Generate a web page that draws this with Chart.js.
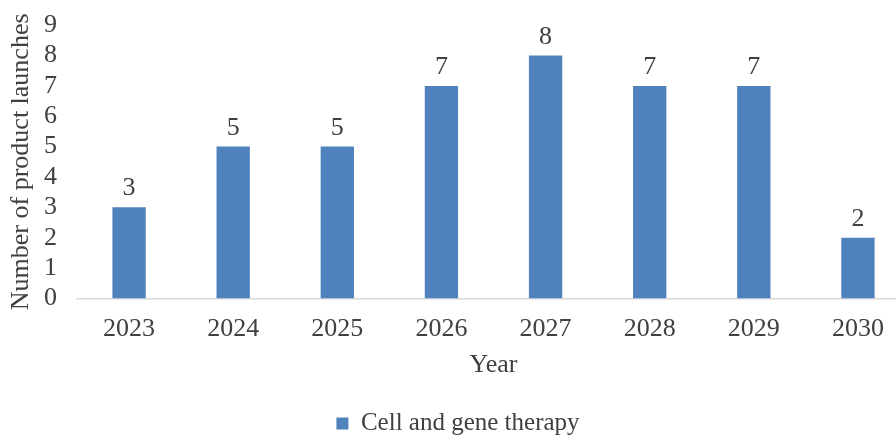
<!DOCTYPE html>
<html lang="en">
<head>
<meta charset="UTF-8" />
<title>Product launches</title>
<script src="https://cdn.jsdelivr.net/npm/chart.js"></script>
<style>
  html, body { margin: 0; padding: 0; background: #fff; overflow: hidden; }
  #wrap { width: 910px; height: 439px; }
</style>
</head>
<body>
<div id="wrap"><canvas id="chart"></canvas></div>
<script>
  const years = ["2023", "2024", "2025", "2026", "2027", "2028", "2029", "2030"];
  const launches = [3, 5, 5, 7, 8, 7, 7, 2];
  const yTicks = [0, 1, 2, 3, 4, 5, 6, 7, 8, 9];

  const textColor = "#404040";
  const serif = "'Liberation Serif', 'DejaVu Serif', serif";

  // value labels above each bar
  const barLabels = {
    id: "barLabels",
    afterDatasetsDraw(chart) {
      const ctx = chart.ctx;
      const meta = chart.getDatasetMeta(0);
      ctx.save();
      ctx.font = "26px " + serif;
      ctx.fillStyle = textColor;
      ctx.textAlign = "center";
      ctx.textBaseline = "alphabetic";
      meta.data.forEach((bar, i) => {
        ctx.fillText(String(launches[i]), bar.x, bar.y - 12);
      });
      ctx.restore();
    }
  };

  new Chart(document.getElementById("chart"), {
    type: "bar",
    data: {
      labels: years,
      datasets: [{
        label: "Cell and gene therapy",
        data: launches,
        backgroundColor: "#4f81bd",
        barPercentage: 0.32,
        categoryPercentage: 1
      }]
    },
    options: {
      responsive: true,
      maintainAspectRatio: false,
      animation: false,
      layout: { padding: { top: -2, left: 6, right: 0, bottom: -7 } },
      scales: {
        x: {
          grid: { display: false, drawTicks: false },
          border: { color: "#d9d9d9", width: 1.5 },
          ticks: { color: textColor, font: { family: serif, size: 26 }, padding: 15, autoSkip: false, maxRotation: 0 },
          title: { display: true, text: "Year", color: textColor, font: { family: serif, size: 26, lineHeight: 0.4 }, padding: { top: 0, bottom: 13 } }
        },
        y: {
          min: 0,
          max: 9,
          afterBuildTicks: axis => { axis.ticks = yTicks.map(v => ({ value: v })); },
          afterFit: axis => { axis.width = 71; },
          grid: { display: false, drawTicks: false },
          border: { display: false },
          ticks: { color: textColor, font: { family: serif, size: 26, lineHeight: 0.4 }, padding: 20, autoSkip: false },
          title: { display: true, text: "Number of product launches", color: textColor, font: { family: serif, size: 26 }, padding: { top: 0, bottom: 4 } }
        }
      },
      plugins: {
        legend: {
          position: "bottom",
          labels: { color: textColor, font: { family: serif, size: 25 }, boxWidth: 12, boxHeight: 12, padding: 28 }
        },
        tooltip: { enabled: false }
      }
    },
    plugins: [barLabels]
  });
</script>
</body>
</html>
